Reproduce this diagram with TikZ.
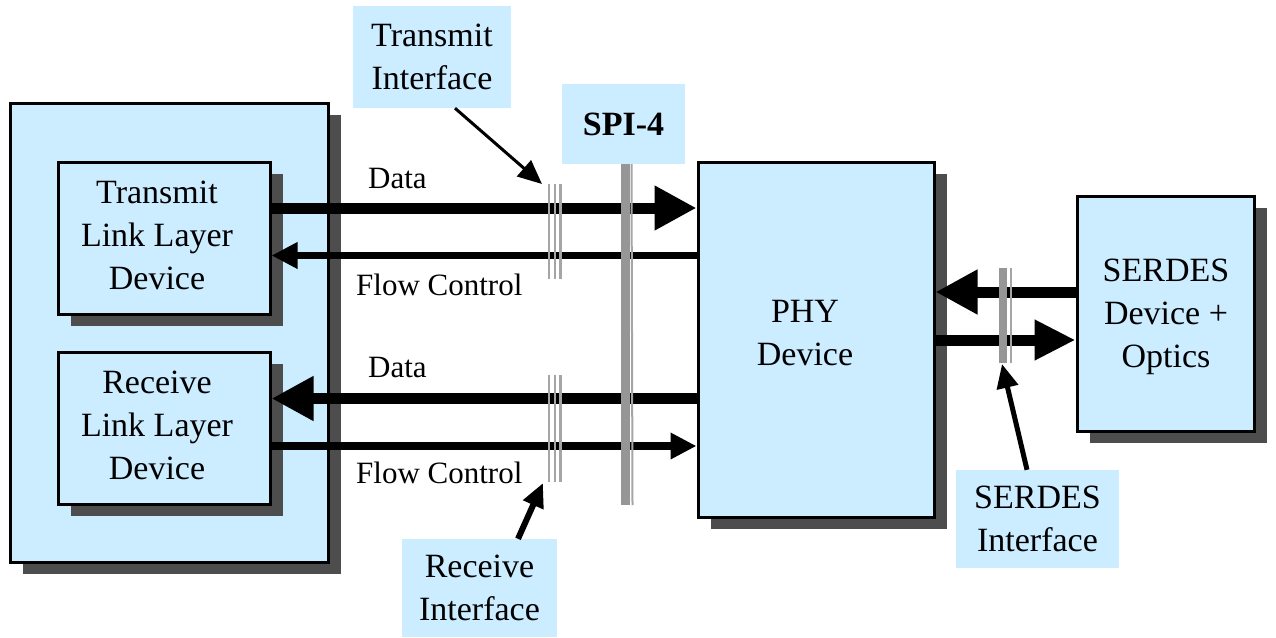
\documentclass[tikz,border=0pt]{standalone}
\usepackage{fontspec}
\setmainfont{Liberation Serif}
\usetikzlibrary{arrows.meta,shadows}
\definecolor{lblue}{RGB}{204,236,255}
\definecolor{shad}{RGB}{77,77,77}
\definecolor{bargray}{RGB}{150,150,150}
\definecolor{barlight}{RGB}{165,165,165}
\begin{document}
\begin{tikzpicture}[x=1pt,y=-1pt,
  box/.style={draw, line width=3pt, fill=lblue, inner sep=0pt,
    drop shadow={shadow xshift=12.5pt, shadow yshift=-11.5pt, opacity=1, fill=shad}},
  boxtext/.style={align=center, inner sep=0pt, font=\fontsize{34}{43}\selectfont},
  lbl/.style={fill=lblue, align=center, inner sep=0pt, font=\fontsize{34}{43}\selectfont},
  small/.style={font=\fontsize{31}{37}\selectfont, inner sep=0pt, anchor=west},
  bigarrow/.style={line width=11pt, -{Triangle[length=42pt,width=42pt]}},
  fcarrow/.style={line width=7.5pt, -{Triangle[length=26pt,width=25pt]}},
  tick/.style={barlight, line width=2.5pt},
  pointer/.style={line width=#1, -{Triangle[length=24pt,width=21pt]}}]
\useasboundingbox[fill=white] (0,0) rectangle (1276,637);

% main boxes
\node[box, minimum width=318pt, minimum height=459pt] (outer) at (169,332.5) {};
\node[box, minimum width=212pt, minimum height=152pt] (txl) at (164,238) {};
\node[boxtext] (txlt) at (157,235) {Transmit\\Link Layer\\Device};
\node[box, minimum width=212pt, minimum height=152pt] (rxl) at (164,428) {};
\node[boxtext] (rxlt) at (157,425) {Receive\\Link Layer\\Device};
\node[box, minimum width=236pt, minimum height=355pt] (phy) at (816,339.5) {};
\node[boxtext] (phyt) at (805,333) {PHY\\Device};
\node[box, minimum width=177pt, minimum height=235pt] (ser) at (1165.5,313.5) {};
\node[boxtext] (sert) at (1166,317) {SERDES\\Device +\\Optics};

% labels
\node[lbl, minimum width=158pt, minimum height=102pt] (tif) at (432,57) {Transmit\\Interface};
\node[lbl, minimum width=123pt, minimum height=80pt, font=\bfseries\fontsize{34}{43}\selectfont] (spi) at (623.5,124) {SPI-4};
\node[lbl, minimum width=155pt, minimum height=98pt] (rif) at (479.5,588) {Receive\\Interface};
\node[lbl, minimum width=163pt, minimum height=98pt] (sif) at (1037.5,519) {SERDES\\Interface};

\node[small] (d1) at (368,178) {Data};
\node[small] (f1) at (356,285) {Flow Control};
\node[small] (d2) at (368,367) {Data};
\node[small] (f2) at (356,473) {Flow Control};

% SPI-4 signals
\draw[bigarrow] (txl.east |- 0,208) -- (phy.west |- 0,208);
\draw[fcarrow] (phy.west |- 0,255.5) -- (txl.east |- 0,255.5);
\draw[bigarrow] (phy.west |- 0,398.5) -- (rxl.east |- 0,398.5);
\draw[fcarrow] (rxl.east |- 0,446) -- (phy.west |- 0,446);

% SERDES signals
\draw[bigarrow] (ser.west |- 0,292) -- (phy.east |- 0,292);
\draw[bigarrow, -{Triangle[length=41pt,width=38pt]}] (phy.east |- 0,340) -- (ser.west |- 0,340);

% interface ticks and bars
\draw[tick] (549,184) -- (549,279);
\draw[tick] (555,184) -- (555,279);
\draw[tick] (560.5,184) -- (560.5,279);
\draw[tick] (549,375) -- (549,482);
\draw[tick] (555,375) -- (555,482);
\draw[tick] (560.5,375) -- (560.5,482);

\draw[bargray, line width=9pt] (spi.south -| 625.5,0) -- (625.5,505);
\draw[barlight, line width=2pt] (spi.south -| 631.5,0) -- (632.5,505);

\coordinate (txif) at (542,184);
\coordinate (rxif) at (543,483);
\coordinate (sbar) at (1002,364);
\draw[bargray, line width=8pt] (1003,268) -- (1003,363);
\draw[barlight, line width=2pt] (1011,268) -- (1011,363);

% pointer arrows
\draw[pointer=3pt] (tif.south -| 455,0) -- (txif);
\draw[pointer=6pt] (rif.north -| 518,0) -- (rxif);
\draw[pointer=5pt] (sif.north -| 1027,0) -- (sbar);
\end{tikzpicture}
\end{document}
